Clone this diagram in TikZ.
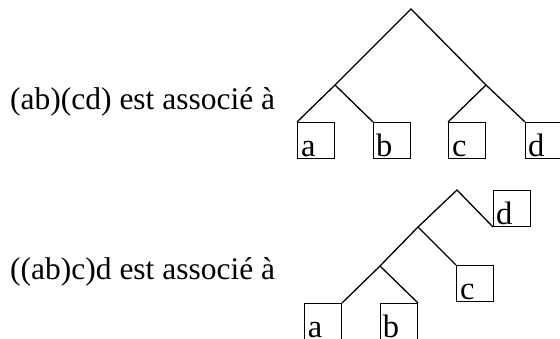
\documentclass[tikz,border=0pt]{standalone}
\usepackage{fontspec}
\setmainfont{Liberation Serif}
\begin{document}
\begin{tikzpicture}[x=1pt,y=-1pt,
  edge/.style={line width=1.3pt,line cap=butt,line join=miter},
  leafbox/.style={draw,line width=1.3pt,rectangle,inner sep=0pt,minimum width=37pt,minimum height=36pt},
  leafname/.style={anchor=base west,inner sep=0pt,font=\fontsize{32.5}{35}\selectfont},
  caption/.style={anchor=base west,inner sep=0pt,font=\fontsize{31.5}{34}\selectfont}]
\useasboundingbox (0,0) rectangle (560,338);
\clip (0,0) rectangle (560,338);

% captions
\node[caption] (t1) at (10,109) {(ab)(cd) est associé à};
\node[caption] (t2) at (10,279) {((ab)c)d est associé à};

% first tree: (ab)(cd)
\coordinate (r1) at (411,9);
\coordinate (l1) at (335,85);
\coordinate (m1) at (486,85);
\node[leafbox,anchor=north west] (a1) at (297,122) {};
\node[leafbox,anchor=north west] (b1) at (373,122) {};
\node[leafbox,anchor=north west] (c1) at (448,122) {};
\node[leafbox,anchor=north west] (d1) at (525,122) {};
\node[leafname] (la1) at ([shift={(4,-3)}]a1.south west) {a};
\node[leafname] (lb1) at ([shift={(3,-3)}]b1.south west) {b};
\node[leafname] (lc1) at ([shift={(4,-3)}]c1.south west) {c};
\node[leafname] (ld1) at ([shift={(3,-3)}]d1.south west) {d};
\draw[edge] (a1.north west) -- (l1) -- (r1) -- (m1) -- (d1.north west);
\draw[edge] (l1) -- (b1.north west);
\draw[edge] (m1) -- (c1.north west);

% second tree: ((ab)c)d
\coordinate (r2) at (457,190);
\coordinate (n2) at (418,227);
\coordinate (n3) at (380,266);
\node[leafbox,anchor=south west] (d2) at (493,227) {};
\node[leafbox,anchor=north west] (c2) at (456,265) {};
\node[leafbox,anchor=north east] (a2) at (342,303) {};
\node[leafbox,anchor=north east] (b2) at (418,303) {};
\node[leafname] (ld2) at ([shift={(3,-3)}]d2.south west) {d};
\node[leafname] (lc2) at ([shift={(4,-3)}]c2.south west) {c};
\node[leafname] (la2) at ([shift={(4,-3)}]a2.south west) {a};
\node[leafname] (lb2) at ([shift={(3,-3)}]b2.south west) {b};
\draw[edge] (d2.south west) -- (r2) -- (n2) -- (n3) -- (a2.north east);
\draw[edge] (n2) -- (c2.north west);
\draw[edge] (n3) -- (b2.north east);
\end{tikzpicture}
\end{document}
